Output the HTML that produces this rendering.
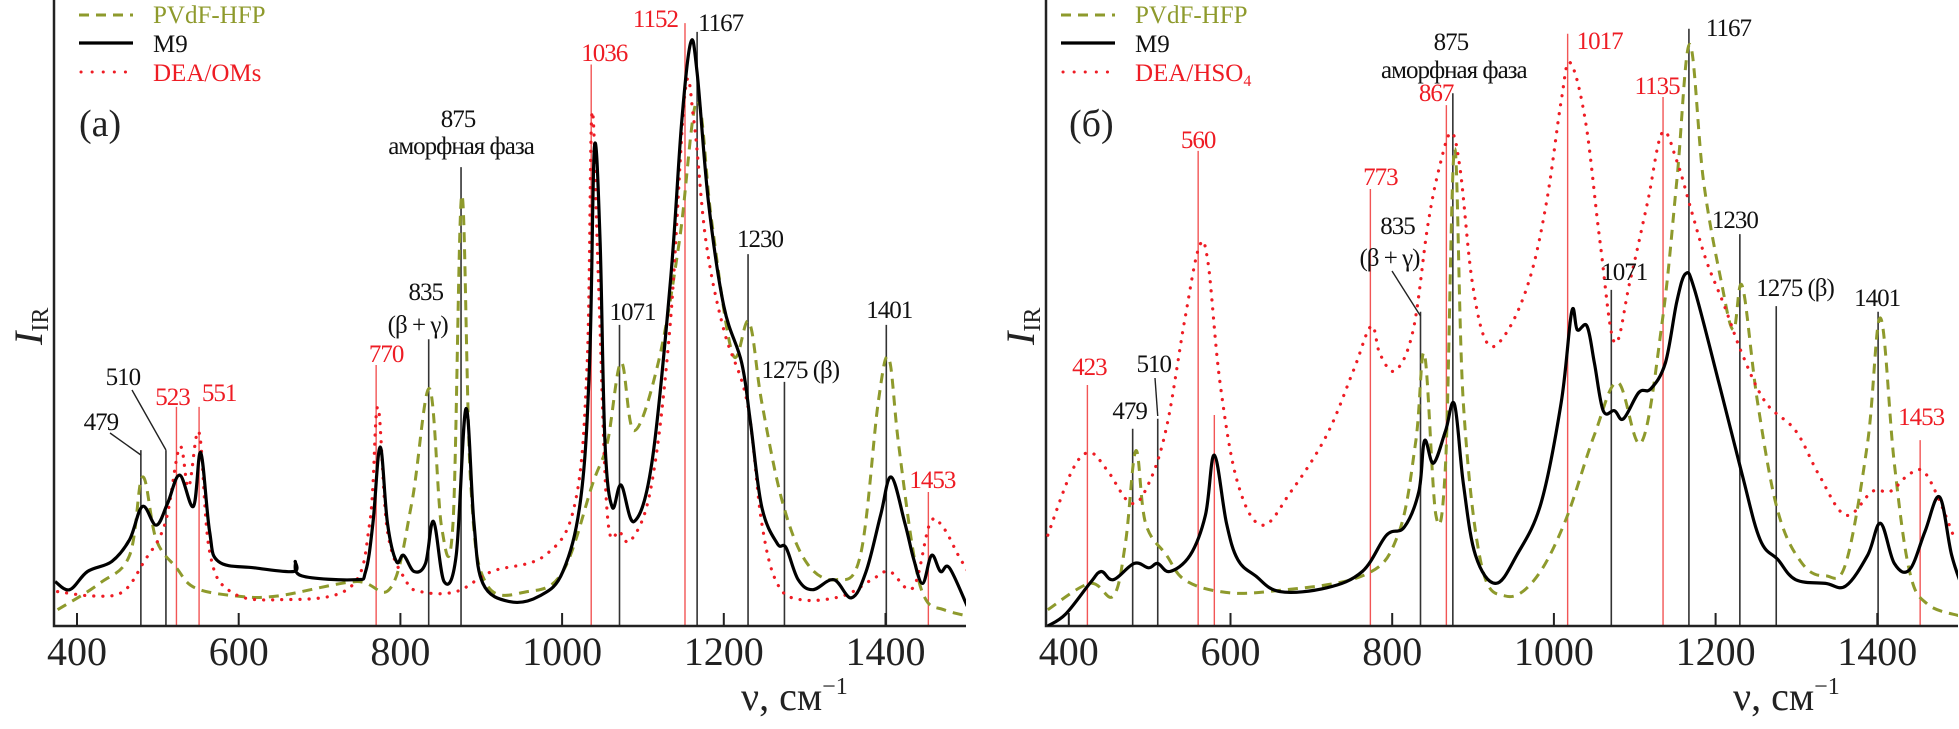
<!DOCTYPE html>
<html><head><meta charset="utf-8"><style>
html,body{margin:0;padding:0;background:#fff;}
svg, svg text{font-family:"Liberation Serif","DejaVu Serif",serif;}
</style></head><body>
<svg id="fig" width="1959" height="724" viewBox="0 0 1959 724" xmlns="http://www.w3.org/2000/svg" font-family="Liberation Serif, DejaVu Serif, serif">
<defs>
<clipPath id="clipA"><rect x="54" y="0" width="912" height="626"/></clipPath>
<clipPath id="clipB"><rect x="1046" y="0" width="912" height="626"/></clipPath>
</defs>
<g id="root" font-family="Liberation Serif, DejaVu Serif, serif"></g>
</svg>
<script>
// ---------- Panel (a) data ----------
const a_m9_v = [373,391,413,443,465,481,498,512,527,544,553,564,575,619,668,670,678,744,757,766,775,784,795,804,817,831,841,854,869,881,891,902,935,972,1001,1023,1034,1040,1047,1053,1062,1073,1089,1111,1134,1148,1159,1167,1181,1200,1222,1233,1247,1266,1277,1292,1310,1336,1358,1376,1394,1407,1424,1435,1446,1457,1468,1479,1501];
const a_m9_i = [7.1,5.8,8.7,10.3,13.8,19.1,16.1,19.6,24.1,19.1,27.7,15.1,10.3,9.3,8.7,10.3,8.0,7.4,8.7,16.4,28.6,16.4,10.3,11.3,8.7,10.0,16.7,7.1,11.3,34.7,16.4,6.8,3.9,4.8,8.7,20.3,42.1,76.5,61.4,29.3,19.0,22.5,16.7,26.0,55.0,80.7,93.2,88.4,67.8,51.1,42.1,32.5,19.0,13.2,12.5,7.4,5.8,7.4,4.5,8.7,17.7,23.8,16.4,10.6,6.8,11.3,8.7,9.3,3.2];
const a_pv_v = [376,428,465,481,498,523,546,597,648,744,788,814,836,851,865,876,887,906,957,1001,1038,1056,1073,1089,1119,1145,1167,1185,1211,1231,1247,1273,1303,1339,1369,1391,1404,1416,1435,1450,1472,1501];
const a_pv_i = [2.6,6.8,11.3,23.8,13.8,9.3,6.1,4.8,4.8,7.1,6.1,19.6,37.9,15.8,16.4,68.8,22.8,6.8,5.5,8.7,22.8,29.3,42.1,31.2,42.1,61.4,83.9,64.6,43.4,48.6,35.7,19.6,10.0,7.4,11.3,35.7,42.8,29.3,11.3,4.2,2.6,1.6];
const a_dea_v = [376,421,457,483,509,527,538,551,564,590,648,737,762,772,784,806,825,869,913,979,1016,1031,1037,1045,1056,1071,1086,1111,1134,1152,1163,1178,1200,1229,1247,1266,1295,1347,1383,1405,1434,1455,1471,1490,1502];
const a_dea_i = [5.5,4.8,5.5,10.3,16.4,28.6,22.2,30.9,11.9,5.5,4.2,6.1,16.4,35.0,15.1,7.4,5.5,5.5,8.7,11.3,19.6,42.1,82.0,55.0,17.7,15.1,13.8,22.8,48.6,85.2,80.7,61.4,47.3,35.7,16.4,6.8,4.2,4.8,7.4,8.7,6.1,16.4,15.8,11.3,8.7];
const a_mark_v = [479,510,523,551,770,835,875,1036,1071,1152,1167,1230,1275,1401,1453];
const a_mark_top = [28.1,28.1,35.0,35.0,41.7,45.8,73.3,89.7,48.1,96.3,94.9,59.4,39.0,48.1,21.4];
const a_mark_red = [0,0,1,1,1,0,0,1,0,1,0,0,0,0,1];

// ---------- Panel (б) data ----------
const b_m9_v = [374,396,426,440,455,481,499,510,525,550,569,580,595,609,631,661,719,763,793,815,833,840,851,866,877,888,903,928,954,984,1009,1022,1029,1041,1050,1061,1075,1086,1105,1120,1138,1152,1163,1174,1204,1233,1255,1277,1299,1336,1361,1388,1404,1421,1440,1459,1477,1492,1507];
const b_m9_i = [0,1.9,6.8,8.7,7.4,10.0,9.3,10.0,8.7,11.3,17.7,27.3,16.4,10.6,8.0,5.5,6.1,8.7,14.5,15.8,21.5,29.6,26.0,31.2,35.4,22.8,11.3,6.8,11.3,19.6,35.7,50.2,47.3,47.9,42.1,34.4,34.4,33.1,37.3,37.9,42.1,51.8,56.3,53.7,38.9,24.1,13.8,10.6,7.4,6.8,6.4,11.3,16.4,10.0,9.0,15.1,20.6,11.3,5.5];
const b_pv_v = [374,426,455,470,483,495,521,543,587,646,763,807,829,840,854,866,877,888,910,940,976,1013,1050,1079,1108,1134,1152,1168,1185,1207,1222,1233,1252,1277,1307,1336,1361,1388,1404,1421,1440,1462,1502];
const b_pv_i = [2.6,6.8,4.8,13.2,28.0,16.4,11.3,7.4,5.5,5.5,8.0,14.5,29.3,43.4,17.7,26.0,76.2,35.7,10.0,4.8,7.4,16.4,30.5,38.9,29.3,48.6,71.1,92.9,71.1,55.0,47.3,54.3,35.7,18.3,10.0,8.0,10.0,29.3,49.2,26.0,8.7,3.5,1.6];
const b_dea_v = [374,404,426,448,477,499,521,543,561,572,587,609,639,675,719,752,774,785,804,826,844,859,873,884,899,917,940,969,991,1009,1020,1039,1057,1075,1094,1116,1134,1152,1171,1189,1211,1233,1262,1299,1328,1361,1394,1416,1438,1456,1474,1496];
const b_dea_i = [14.5,24.8,27.7,24.8,19.6,22.8,31.8,48.6,60.5,58.2,38.9,22.8,16.1,21.5,30.5,40.8,47.9,43.4,40.8,47.3,64.0,73.6,78.8,73.0,55.0,45.3,46.6,55.0,67.8,83.9,90.0,80.7,61.4,45.3,55.0,67.8,78.8,74.3,65.9,58.2,51.1,43.4,35.7,31.2,24.1,17.7,21.5,21.5,24.1,24.8,20.9,13.8];
const b_mark_v = [423,479,510,560,580,773,835,867,875,1017,1071,1135,1167,1230,1275,1401,1453];
const b_mark_top = [38.5,31.5,33.1,75.9,33.7,69.8,50.2,83.2,85.1,94.6,53.7,84.5,95.4,62.6,51.1,50.2,29.7];
const b_mark_red = [1,0,0,1,1,1,0,1,0,1,0,1,0,0,0,0,1];

const tickVals = [400,600,800,1000,1200,1400];
const tickLabels = ["400","600","800","1000","1200","1400"];

// ---------- scales ----------
const PX = 0.8085, Y0 = 626, YS = 6.26;
const xA = v => 77 + (v-400)*PX;
const xB = v => 1068.8 + (v-400)*PX;
const yS = i => Y0 - i*YS;

const NS = "http://www.w3.org/2000/svg";
const root = document.getElementById('root');
function mk(tag, attrs, parent){ const e=document.createElementNS(NS,tag); for(const k in attrs) e.setAttribute(k,attrs[k]); (parent||root).appendChild(e); return e; }

const GREEN="#8e9a2c", RED="#ee1c24", MRED="#f25555";

function smoothPath(pts){
  let d = 'M'+pts[0][0].toFixed(1)+','+pts[0][1].toFixed(1);
  const t = 0.35;
  for(let k=0;k<pts.length-1;k++){
    const p0 = pts[k-1]||pts[k], p1 = pts[k], p2 = pts[k+1], p3 = pts[k+2]||p2;
    const c1x = p1[0]+(p2[0]-p0[0])*t/2*1.0, c1y = p1[1]+(p2[1]-p0[1])*t/2;
    const c2x = p2[0]-(p3[0]-p1[0])*t/2, c2y = p2[1]-(p3[1]-p1[1])*t/2;
    d += 'C'+c1x.toFixed(1)+','+c1y.toFixed(1)+' '+c2x.toFixed(1)+','+c2y.toFixed(1)+' '+p2[0].toFixed(1)+','+p2[1].toFixed(1);
  }
  return d;
}

function panel(id, xs, left, m9v, m9i, pvv, pvi, dv, di, mv, mt, mr, labels, legendX, deaLabel, tag){
  const g = mk('g',{});
  
  
  mv.forEach((v,k)=>{
    const l = mk('line',{x1:xs(v),x2:xs(v),y1:yS(mt[k]),y2:Y0,stroke:mr[k]?MRED:'#333','stroke-width':mr[k]?1.4:1.6},g);
    
    
  });
  const ax = mk('path',{d:`M${left},0 V${Y0} H${left+912}`,fill:'none',stroke:'#222','stroke-width':2.5},g);
  
  
  tickVals.forEach((v,k)=>{
    const t = mk('line',{x1:xs(v),x2:xs(v),y1:Y0,y2:Y0-13,stroke:'#222','stroke-width':2},g);
    
    
    const tl = mk('text',{x:xs(v),y:665,'font-size':40,'text-anchor':'middle',fill:'#222'},g);
    tl.textContent = tickLabels[k];
    
    
  });
  const cg = mk('g',{'clip-path':`url(#clip${tag})`},g);
  function series(vs, is, style, name){
    const pts = vs.map((v,k)=>[xs(v), yS(is[k])]);
    const p = mk('path',Object.assign({d:smoothPath(pts),fill:'none','stroke-linejoin':'round'},style),cg);
    
    
  }
  series(pvv,pvi,{stroke:GREEN,'stroke-width':3,'stroke-dasharray':'10 7'},'series-pvdf-hfp-'+id);
  series(dv,di,{stroke:RED,'stroke-width':3.2,'stroke-dasharray':'0.1 9','stroke-linecap':'round'},'series-dea-'+id);
  series(m9v,m9i,{stroke:'#000','stroke-width':3.2},'series-m9-'+id);
  labels.forEach(L=>{
    const t = mk('text',{x:xs(L[0])+L[1],y:L[2],'font-size':25,'text-anchor':L[4]||'middle',fill:L[3]?RED:'#111','letter-spacing':'-1'},g);
    t.textContent = L[5] || String(L[0]);
    
    
  });
  const lg = mk('g',{},g);
  
  
  mk('line',{x1:legendX,x2:legendX+54,y1:15,y2:15,stroke:GREEN,'stroke-width':3,'stroke-dasharray':'10 7'},lg);
  mk('line',{x1:legendX,x2:legendX+54,y1:43,y2:43,stroke:'#000','stroke-width':3.2},lg);
  mk('line',{x1:legendX+2,x2:legendX+54,y1:72,y2:72,stroke:RED,'stroke-width':3,'stroke-dasharray':'0.1 11','stroke-linecap':'round'},lg);
  const t1=mk('text',{x:legendX+74,y:23,'font-size':25,fill:GREEN},lg); t1.textContent='PVdF-HFP';
  
  
  const t2=mk('text',{x:legendX+74,y:52,'font-size':25,fill:'#111'},lg); t2.textContent='M9';
  
  
  const t3=mk('text',{x:legendX+74,y:81,'font-size':25,fill:RED},lg);
  
  
  if(deaLabel==='HSO'){ t3.innerHTML='DEA/HSO<tspan font-size="16" dy="5">4</tspan>'; } else { t3.textContent=deaLabel; }
  return g;
}

const labA = [
 [479,-40,430,0,'middle'],[510,-43,385,0,'middle'],[523,-4,405,1,'middle'],[551,20,401,1,'middle'],
 [770,10,362,1,'middle'],[835,-3,300,0,'middle'],[835,-11,333,0,'middle','(β + γ)'],
 [875,-3,127,0,'middle'],[875,0,154,0,'middle','аморфная фаза'],
 [1036,13,61,1,'middle'],[1071,13,320,0,'middle'],[1152,-7,27,1,'end'],[1167,1,31,0,'start'],
 [1230,12,247,0,'middle'],[1275,-23,378,0,'start','1275 (β)'],[1401,3,318,0,'middle'],[1453,4,488,1,'middle']
];
const labB = [
 [423,2,375,1,'middle'],[479,-3,419,0,'middle'],[510,-4,372,0,'middle'],[560,0,148,1,'middle'],
 [773,10,185,1,'middle'],[835,-23,234,0,'middle'],[835,-31,266,0,'middle','(β + γ)'],
 [867,7,101,1,'end'],[875,-2,50,0,'middle'],[875,1,78,0,'middle','аморфная фаза'],
 [1017,9,49,1,'start'],[1071,13,280,0,'middle'],[1135,-6,94,1,'middle'],[1167,17,36,0,'start'],
 [1230,-5,228,0,'middle'],[1275,-20,296,0,'start','1275 (β)'],[1401,-1,306,0,'middle'],[1453,1,425,1,'middle']
];

panel('a', xA, 54, a_m9_v,a_m9_i,a_pv_v,a_pv_i,a_dea_v,a_dea_i,a_mark_v,a_mark_top,a_mark_red,labA,79,'DEA/OMs','A');
panel('b', xB, 1046, b_m9_v,b_m9_i,b_pv_v,b_pv_i,b_dea_v,b_dea_i,b_mark_v,b_mark_top,b_mark_red,labB,1061,'HSO','B');

function leader(x1,y1,x2,y2,name){
  const l = mk('line',{x1:x1,y1:y1,x2:x2,y2:y2,stroke:'#222','stroke-width':1.4});
  
  
}
leader(110,433,xA(479),455,'leader-479-a');
leader(132,390,xA(510),450,'leader-510-a');
leader(1155,378,xB(510),416,'leader-510-b');
leader(1392,271,xB(835),316,'leader-835-b');

function txt(x,y,s,attrs,name){
  const t = mk('text',Object.assign({x:x,y:y,fill:'#222'},attrs));
  t.innerHTML = s;
  
  
  return t;
}
txt(79,136,'(a)',{'font-size':38},'panel-label-a');
txt(1069,136,'(б)',{'font-size':38},'panel-label-b');
txt(741,710,'ν, см<tspan font-size="24" dy="-16">−1</tspan>',{'font-size':40},'x-axis-title-a');
txt(1733,710,'ν, см<tspan font-size="24" dy="-16">−1</tspan>',{'font-size':40},'x-axis-title-b');
txt(0,0,'<tspan font-style="italic">I</tspan><tspan font-size="24" dy="6">IR</tspan>',{'font-size':40,transform:'translate(42,345) rotate(-90)'},'y-axis-title-a');
txt(0,0,'<tspan font-style="italic">I</tspan><tspan font-size="24" dy="6">IR</tspan>',{'font-size':40,transform:'translate(1034,345) rotate(-90)'},'y-axis-title-b');
</script>
</body></html>
